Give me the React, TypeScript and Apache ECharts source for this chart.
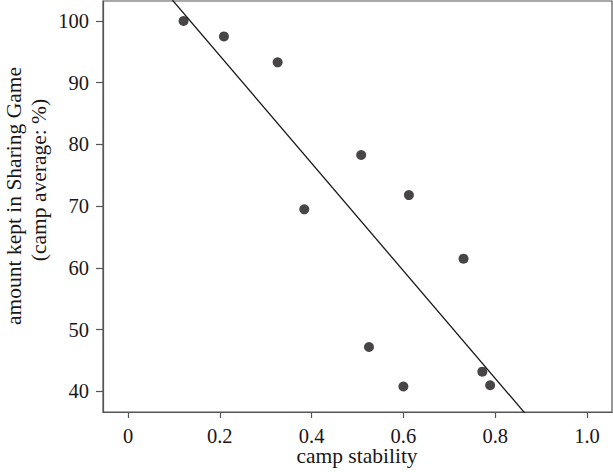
import React, { useEffect, useRef } from "react";
import * as echarts from "echarts";

const campStability = [0.121, 0.209, 0.326, 0.384, 0.508, 0.612, 0.731, 0.525, 0.600, 0.772, 0.789];
const amountKept = [100.0, 97.5, 93.3, 69.5, 78.3, 71.8, 61.5, 47.2, 40.8, 43.2, 41.0];
const xTicks = [0, 0.2, 0.4, 0.6, 0.8, 1.0];
const yTicks = [40, 50, 60, 70, 80, 90, 100];
const xTitle = "camp stability";
const yTitleLine1 = "amount kept in Sharing Game";
const yTitleLine2 = "(camp average: %)";

const X_MIN = -0.0545;
const X_MAX = 1.0545;
const Y_MIN = 36.67;
const Y_MAX = 103.24;

function fitLine(xs: number[], ys: number[]) {
  const n = xs.length;
  const mx = xs.reduce((a, b) => a + b, 0) / n;
  const my = ys.reduce((a, b) => a + b, 0) / n;
  let sxy = 0;
  let sxx = 0;
  for (let i = 0; i < n; i++) {
    sxy += (xs[i] - mx) * (ys[i] - my);
    sxx += (xs[i] - mx) * (xs[i] - mx);
  }
  const slope = sxy / sxx;
  return { slope, intercept: my - slope * mx };
}

export default function App() {
  const ref = useRef<HTMLDivElement>(null);
  useEffect(() => {
    if (!ref.current) return;
    const chart = echarts.init(ref.current, undefined, { renderer: "svg" });
    const { slope, intercept } = fitLine(campStability, amountKept);
    const font = "Liberation Serif";
    const axisColor = "#555555";
    const textColor = "#1a1718";
    const titleStyle = {
      fill: textColor,
      fontFamily: font,
      fontSize: 21.5,
      lineHeight: 18,
      align: "center",
      verticalAlign: "middle",
    };
    chart.setOption({
      animation: false,
      backgroundColor: "#ffffff",
      textStyle: { fontFamily: font },
      grid: {
        left: 103,
        right: 1,
        top: 1,
        bottom: 60,
        containLabel: false,
        outerBoundsMode: "none",
        show: true,
        borderColor: axisColor,
        borderWidth: 1.2,
        backgroundColor: "transparent",
      },
      graphic: [
        {
          type: "text",
          x: 357,
          y: 456,
          style: { ...titleStyle, text: xTitle },
        },
        {
          type: "text",
          x: 14,
          y: 196,
          rotation: Math.PI / 2,
          style: { ...titleStyle, text: yTitleLine1 },
        },
        {
          type: "text",
          x: 39,
          y: 180,
          rotation: Math.PI / 2,
          style: { ...titleStyle, text: yTitleLine2 },
        },
      ],
      xAxis: {
        type: "value",
        min: X_MIN,
        max: X_MAX,
        axisLine: { show: true, onZero: false, lineStyle: { color: axisColor, width: 1.2 } },
        axisTick: { show: true, length: 6, inside: false, customValues: xTicks, lineStyle: { color: axisColor, width: 1.2 } },
        axisLabel: {
          customValues: xTicks,
          margin: 14,
          lineHeight: 20,
          fontFamily: font,
          fontSize: 20.5,
          color: textColor,
          formatter: (v: number) => (v === 0 ? "0" : v.toFixed(1)),
        },
        splitLine: { show: false },
      },
      yAxis: {
        type: "value",
        min: Y_MIN,
        max: Y_MAX,
        axisLine: { show: true, onZero: false, lineStyle: { color: axisColor, width: 1.2 } },
        axisTick: { show: true, length: 7, inside: false, customValues: yTicks, lineStyle: { color: axisColor, width: 1.2 } },
        axisLabel: {
          customValues: yTicks,
          margin: 14,
          fontFamily: font,
          fontSize: 20.5,
          color: textColor,
        },
        splitLine: { show: false },
      },
      series: [
        {
          type: "line",
          data: [
            [X_MIN, intercept + slope * X_MIN],
            [X_MAX, intercept + slope * X_MAX],
          ],
          showSymbol: false,
          clip: true,
          lineStyle: { color: textColor, width: 1.3 },
          silent: true,
          z: 2,
        },
        {
          type: "scatter",
          data: campStability.map((x, i) => [x, amountKept[i]]),
          symbol: "circle",
          symbolSize: 10,
          itemStyle: { color: textColor },
          z: 3,
        },
      ],
    });
    return () => chart.dispose();
  }, []);
  return (
    <div
      ref={ref}
      style={{ position: "fixed", left: 0, top: 0, width: 613, height: 472, background: "#fff" }}
    />
  );
}
